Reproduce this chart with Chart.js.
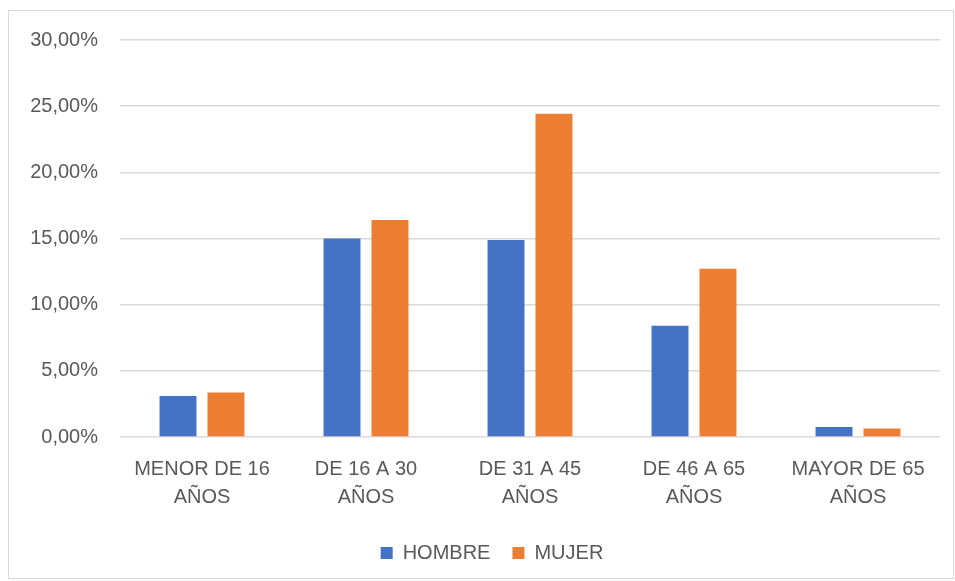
<!DOCTYPE html>
<html>
<head>
<meta charset="utf-8">
<script src="https://cdn.jsdelivr.net/npm/chart.js@4"></script>
<style>
    html, body { margin: 0; padding: 0; background: #ffffff; }
    #wrap { position: relative; width: 955px; height: 581px; }
    #frame {
        position: absolute; left: 8px; top: 10px; width: 944px; height: 567px;
        border: 1px solid #d9d9d9; pointer-events: none;
    }
    canvas { position: absolute; left: 0; top: 0; }
</style>
</head>
<body>
<div id="wrap">
    <canvas id="ageChart" width="955" height="581"></canvas>
    <div id="frame"></div>
</div>
<script>
const categories = [
    ["MENOR DE 16", "AÑOS"],
    ["DE 16 A 30", "AÑOS"],
    ["DE 31 A 45", "AÑOS"],
    ["DE 46 A 65", "AÑOS"],
    ["MAYOR DE 65", "AÑOS"]
];
const hombre = [3.09, 15.0, 14.88, 8.4, 0.76];
const mujer = [3.37, 16.4, 24.43, 12.71, 0.64];
const yTicks = [0, 5, 10, 15, 20, 25, 30];

(() => {
    const chartElement = document.getElementById("ageChart");
    if (!chartElement || typeof Chart === "undefined") {
        return;
    }

    const textColor = "#595959";
    const font = { family: "'Liberation Sans', Arial, sans-serif", size: 20, lineHeight: 1.4 };

    // legend sits a bit right of the canvas centre in the original
    const shiftLegend = {
        id: "shiftLegend",
        afterLayout(chart) {
            if (chart.legend) {
                chart.legend.left += 44;
            }
        }
    };

    new Chart(chartElement, {
        type: "bar",
        data: {
            labels: categories,
            datasets: [
                {
                    label: "HOMBRE",
                    data: hombre,
                    backgroundColor: "#4472C4",
                    categoryPercentage: 0.585,
                    barPercentage: 0.77
                },
                {
                    label: "MUJER",
                    data: mujer,
                    backgroundColor: "#ED7D31",
                    categoryPercentage: 0.585,
                    barPercentage: 0.77
                }
            ]
        },
        plugins: [shiftLegend],
        options: {
            responsive: false,
            animation: false,
            layout: {
                padding: { top: 40, right: 15, bottom: 8, left: 0 }
            },
            scales: {
                x: {
                    grid: { display: false },
                    border: { display: false },
                    ticks: {
                        color: textColor,
                        font,
                        padding: 10,
                        maxRotation: 0,
                        autoSkip: false
                    }
                },
                y: {
                    min: 0,
                    max: 30,
                    afterFit: (scale) => { scale.width = 120; },
                    afterBuildTicks: (scale) => {
                        scale.ticks = yTicks.map((v) => ({ value: v }));
                    },
                    grid: {
                        color: "#d9d9d9",
                        lineWidth: 1.5,
                        drawTicks: false
                    },
                    border: { display: false },
                    ticks: {
                        color: textColor,
                        font,
                        padding: 22,
                        callback: (value) => value.toFixed(2).replace(".", ",") + "%"
                    }
                }
            },
            plugins: {
                legend: {
                    position: "bottom",
                    labels: {
                        color: textColor,
                        font,
                        boxWidth: 12,
                        boxHeight: 12,
                        padding: 22
                    }
                },
                tooltip: { enabled: false }
            }
        }
    });
})();
</script>
</body>
</html>
